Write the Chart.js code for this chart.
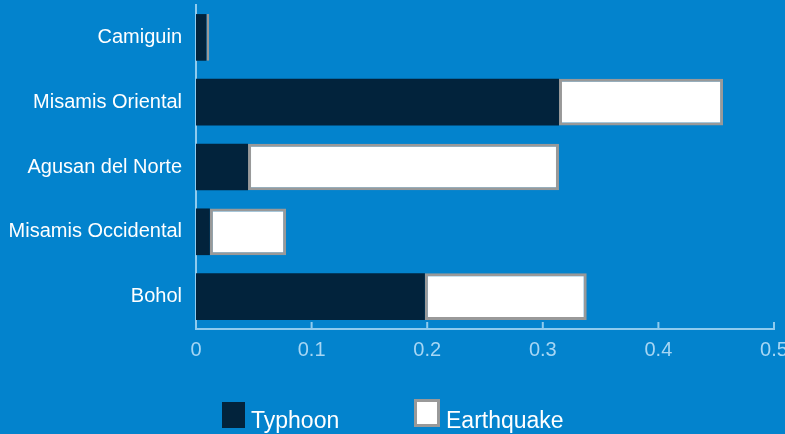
<!DOCTYPE html>
<html>
<head>
<meta charset="utf-8">
<script src="https://cdn.jsdelivr.net/npm/chart.js@4.4.1/dist/chart.umd.min.js"></script>
<style>
  html, body { margin: 0; padding: 0; background: #0383cd; }
  #wrap { position: relative; width: 785px; height: 434px; overflow: hidden; background: #0383cd; }
  .legend-box { position: absolute; box-sizing: border-box; }
  .legend-text { position: absolute; color: #fff; font-family: "Liberation Sans", Arial, sans-serif; font-size: 23px; line-height: 1; white-space: nowrap; }
</style>
</head>
<body>
<div id="wrap">
  <canvas id="barChart" width="785" height="434"></canvas>
  <div class="legend-box" style="left:222px;top:402px;width:23px;height:26px;background:#02233c;"></div>
  <div class="legend-text" style="left:251px;top:409px;">Typhoon</div>
  <div class="legend-box" style="left:414px;top:399px;width:26px;height:28px;background:#fff;border:3px solid #999;"></div>
  <div class="legend-text" style="left:446px;top:409px;">Earthquake</div>
</div>
<script>
const categories = ["Camiguin", "Misamis Oriental", "Agusan del Norte", "Misamis Occidental", "Bohol"];
const typhoon = [0.009, 0.314, 0.045, 0.012, 0.198];
const earthquake = [0.0025, 0.142, 0.269, 0.066, 0.14];
const xTicks = [0, 0.1, 0.2, 0.3, 0.4, 0.5];

const axisColor = "#8fcbee";

// small tick marks pointing up from the x axis line
const tickMarks = {
    id: "tickMarks",
    afterDraw(chart) {
        let xScale = chart.scales.x;
        let ctx = chart.ctx;
        let bottom = chart.chartArea.bottom;
        ctx.save();
        ctx.strokeStyle = axisColor;
        ctx.lineWidth = 2;
        xTicks.forEach(function (v) {
            let px = xScale.getPixelForValue(v);
            ctx.beginPath();
            ctx.moveTo(px, bottom);
            ctx.lineTo(px, bottom - 7);
            ctx.stroke();
        });
        ctx.restore();
    },
};

let ctx = document.getElementById("barChart").getContext("2d");
new Chart(ctx, {
    type: "bar",
    data: {
        labels: categories,
        datasets: [
            {
                label: "Typhoon",
                data: typhoon,
                backgroundColor: "#02233c",
                borderWidth: 0,
            },
            {
                label: "Earthquake",
                data: earthquake,
                backgroundColor: "#ffffff",
                borderColor: "#999999",
                borderWidth: 3,
                borderSkipped: false,
            },
        ],
    },
    options: {
        indexAxis: "y",
        responsive: false,
        animation: false,
        barPercentage: 0.72,
        categoryPercentage: 1,
        layout: { padding: { top: 5, right: 11, bottom: 65, left: 0 } },
        plugins: {
            legend: { display: false },
            tooltip: { enabled: false },
        },
        scales: {
            x: {
                stacked: true,
                min: 0,
                max: 0.5,
                grid: { display: false, drawTicks: false },
                border: { color: axisColor, width: 2 },
                afterBuildTicks: function (scale) {
                    scale.ticks = xTicks.map(function (v) { return { value: v }; });
                },
                afterFit: function (scale) {
                    scale.height = 40;
                    scale.paddingRight = 0;
                },
                ticks: {
                    color: "#a6d6f4",
                    padding: 9,
                    maxRotation: 0,
                    font: { family: "'Liberation Sans', Arial, sans-serif", size: 20 },
                    callback: function (value) { return String(Math.round(value * 10) / 10); },
                },
            },
            y: {
                stacked: true,
                grid: { display: false, drawTicks: false },
                border: { color: axisColor, width: 2 },
                afterFit: function (scale) {
                    scale.width = 196;
                    scale.paddingTop = 0;
                    scale.paddingBottom = 0;
                },
                ticks: {
                    color: "#ffffff",
                    padding: 14,
                    font: { family: "'Liberation Sans', Arial, sans-serif", size: 20 },
                },
            },
        },
    },
    plugins: [tickMarks],
});
</script>
</body>
</html>
